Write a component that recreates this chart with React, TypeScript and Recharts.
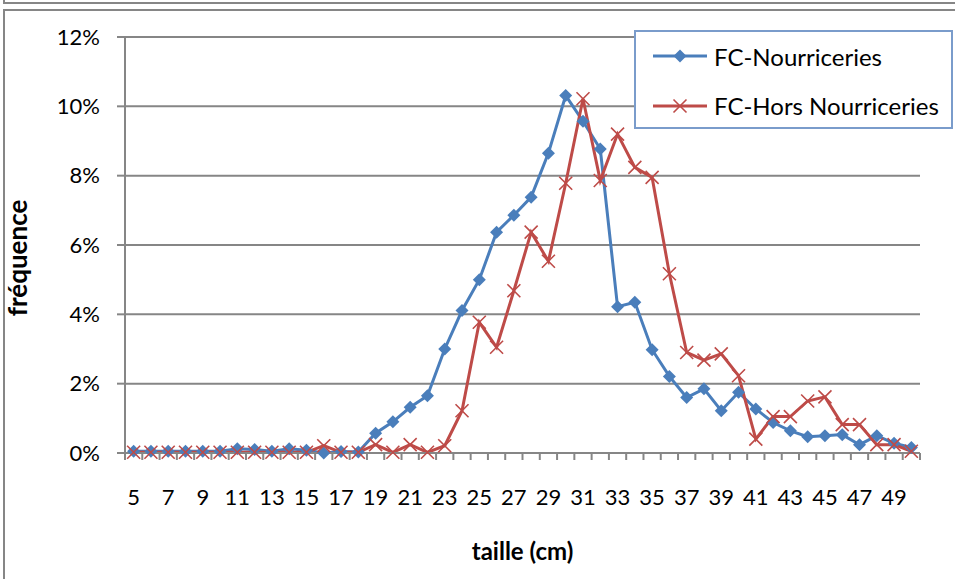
import { CartesianGrid, Label, Legend, Line, LineChart, XAxis, YAxis } from "recharts";

const tailles = [
  5, 6, 7, 8, 9, 10, 11, 12, 13, 14, 15, 16, 17, 18, 19, 20, 21, 22, 23, 24, 25, 26, 27,
  28, 29, 30, 31, 32, 33, 34, 35, 36, 37, 38, 39, 40, 41, 42, 43, 44, 45, 46, 47, 48, 49, 50,
];

// fréquences en %
const nourriceries = [
  0.05, 0.05, 0.05, 0.05, 0.05, 0.05, 0.12, 0.1, 0.05, 0.12, 0.08, 0.0, 0.04, 0.03, 0.57,
  0.9, 1.32, 1.65, 3.0, 4.11, 5.0, 6.37, 6.86, 7.38, 8.65, 10.31, 9.57, 8.77, 4.22, 4.35,
  2.98, 2.21, 1.6, 1.85, 1.22, 1.75, 1.27, 0.88, 0.64, 0.47, 0.5, 0.53, 0.24, 0.5, 0.28,
  0.16,
];

const horsNourriceries = [
  0.02, 0.02, 0.02, 0.02, 0.02, 0.02, 0.02, 0.02, 0.02, 0.02, 0.02, 0.21, 0.02, 0.02, 0.24,
  0.02, 0.24, 0.02, 0.21, 1.22, 3.77, 3.05, 4.68, 6.37, 5.53, 7.78, 10.22, 7.86, 9.2, 8.24,
  7.95, 5.17, 2.9, 2.68, 2.86, 2.23, 0.4, 1.05, 1.05, 1.5, 1.62, 0.82, 0.82, 0.24, 0.24,
  0.05,
];

const tickLabels = [5, 7, 9, 11, 13, 15, 17, 19, 21, 23, 25, 27, 29, 31, 33, 35, 37, 39, 41, 43, 45, 47, 49];
const yTicks = [0, 2, 4, 6, 8, 10, 12];

const BLUE = "#4A7EBB";
const RED = "#BE4B48";
const GRAY = "#868686";
const FONT = "Lato, 'Open Sans', sans-serif";

const data = tailles.map((t, i) => ({
  taille: t,
  nourr: nourriceries[i],
  hors: horsNourriceries[i],
}));

// bornes entre catégories (graduations) + positions des libellés
const bounds = [...tailles.map((t) => t - 0.5), tailles[tailles.length - 1] + 0.5];
const xTicks = [...bounds, ...tickLabels].sort((a, b) => a - b);

function Diamond({ cx, cy, size = 6.5, fill }: { cx?: number; cy?: number; size?: number; fill: string }) {
  if (cx == null || cy == null) return null;
  return (
    <path
      d={`M${cx},${cy - size}L${cx + size},${cy}L${cx},${cy + size}L${cx - size},${cy}Z`}
      fill={fill}
    />
  );
}

function Cross({ cx, cy, size = 6.5, stroke }: { cx?: number; cy?: number; size?: number; stroke: string }) {
  if (cx == null || cy == null) return null;
  return (
    <path
      d={`M${cx - size},${cy - size}L${cx + size},${cy + size}M${cx - size},${cy + size}L${cx + size},${cy - size}`}
      stroke={stroke}
      strokeWidth={1.6}
      fill="none"
    />
  );
}

function XTick({ x, y, payload }: { x?: number; y?: number; payload?: { value: number } }) {
  if (x == null || y == null || !payload) return null;
  const v = payload.value;
  if (v % 1 !== 0) {
    return <line x1={x} y1={y} x2={x} y2={y + 7} stroke={GRAY} strokeWidth={2} />;
  }
  return (
    <text x={x} y={y + 52} textAnchor="middle" fill="#000" fontSize={22} fontFamily={FONT}>
      {v}
    </text>
  );
}

function ChartLegend() {
  const rows = [
    { name: "FC-Nourriceries", color: BLUE, kind: "diamond" },
    { name: "FC-Hors Nourriceries", color: RED, kind: "cross" },
  ];
  return (
    <div
      style={{
        width: 319,
        height: 99,
        boxSizing: "border-box",
        border: "2px solid #7A9CCB",
        background: "#fff",
        position: "relative",
      }}
    >
      {rows.map((r, i) => (
        <div
          key={r.name}
          style={{
            position: "absolute",
            left: 15,
            top: 9 + i * 49.5,
            height: 30,
            display: "flex",
            alignItems: "center",
          }}
        >
          <svg width={58} height={20}>
            <line x1={2} y1={10} x2={56} y2={10} stroke={r.color} strokeWidth={3} />
            {r.kind === "diamond" ? (
              <Diamond cx={29} cy={10} fill={r.color} />
            ) : (
              <Cross cx={29} cy={10} stroke={r.color} />
            )}
          </svg>
          <span style={{ fontFamily: FONT, fontSize: 24, color: "#000", marginLeft: 5, whiteSpace: "nowrap" }}>
            {r.name}
          </span>
        </div>
      ))}
    </div>
  );
}

export default function App() {
  return (
    <div style={{ position: "absolute", left: 0, top: 0, width: 955, height: 579, background: "#fff", overflow: "hidden" }}>
      <div style={{ position: "absolute", left: 3, top: -4, right: -4, height: 6, border: `2px solid ${GRAY}`, borderTop: "none" }} />
      <div style={{ position: "absolute", left: 3, top: 9, width: 960, height: 580, borderLeft: `2px solid ${GRAY}`, borderTop: `2px solid ${GRAY}` }} />
      <div style={{ position: "absolute", left: 0, top: 0 }}>
        <LineChart width={955} height={579} data={data} margin={{ top: 37, right: 35, left: 0, bottom: 0 }}>
          <CartesianGrid vertical={false} stroke={GRAY} strokeWidth={2} />
          <XAxis
            dataKey="taille"
            type="number"
            domain={[4.5, 50.5]}
            ticks={xTicks}
            interval={0}
            height={126}
            tickSize={0}
            tickMargin={0}
            tickLine={false}
            tick={<XTick />}
            axisLine={{ stroke: GRAY, strokeWidth: 2 }}
          >
            <Label
              value="taille (cm)"
              position="insideBottom"
              offset={19}
              fill="#000"
              fontSize={24}
              fontWeight="bold"
              fontFamily={FONT}
            />
          </XAxis>
          <YAxis
            width={125}
            domain={[0, 12]}
            ticks={yTicks}
            interval={0}
            tickFormatter={(v: number) => `${v}%`}
            tickSize={8}
            tickMargin={17}
            tick={{ fill: "#000", fontSize: 22, fontFamily: FONT }}
            tickLine={{ stroke: GRAY, strokeWidth: 2 }}
            axisLine={{ stroke: GRAY, strokeWidth: 2 }}
          >
            <Label
              value="fréquence"
              angle={-90}
              position="insideLeft"
              offset={18}
              dy={13}
              style={{ textAnchor: "middle" }}
              fill="#000"
              fontSize={26}
              fontWeight="bold"
              fontFamily={FONT}
            />
          </YAxis>
          <Legend
            layout="vertical"
            align="center"
            verticalAlign="middle"
            content={<ChartLegend />}
            wrapperStyle={{ position: "absolute", left: 634, top: 30, width: 319, height: 99 }}
          />
          <Line
            type="linear"
            dataKey="nourr"
            name="FC-Nourriceries"
            stroke={BLUE}
            strokeWidth={3}
            dot={(p: any) => <Diamond key={`d${p.index}`} cx={p.cx} cy={p.cy} fill={BLUE} />}
            activeDot={false}
            isAnimationActive={false}
          />
          <Line
            type="linear"
            dataKey="hors"
            name="FC-Hors Nourriceries"
            stroke={RED}
            strokeWidth={3}
            dot={(p: any) => <Cross key={`c${p.index}`} cx={p.cx} cy={p.cy} stroke={RED} />}
            activeDot={false}
            isAnimationActive={false}
          />
        </LineChart>
      </div>
    </div>
  );
}
